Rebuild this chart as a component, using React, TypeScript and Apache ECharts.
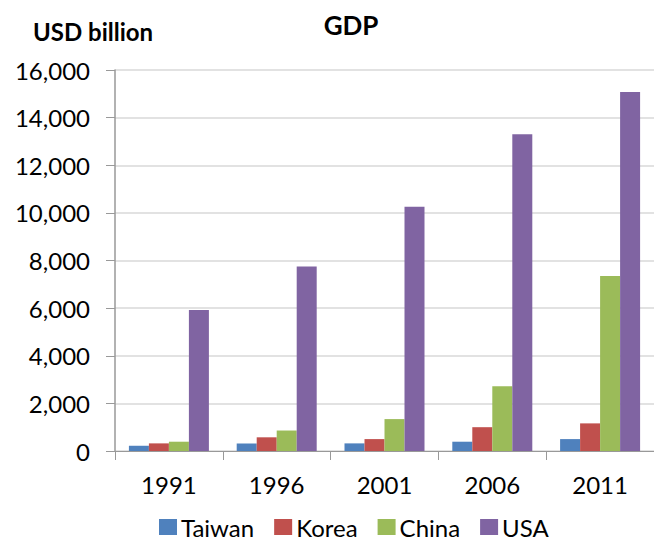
import React, { useEffect, useRef } from "react";
import * as echarts from "echarts";

const categories = ["1991", "1996", "2001", "2006", "2011"];
const taiwan = [220, 320, 320, 390, 500];
const korea = [320, 575, 500, 1000, 1160];
const china = [390, 860, 1340, 2720, 7350];
const usa = [5920, 7750, 10260, 13300, 15080];
const seriesNames = ["Taiwan", "Korea", "China", "USA"];
const colors = ["#4F81BD", "#C0504D", "#9BBB59", "#8064A2"];

const FONT = "Lato, 'Liberation Sans', sans-serif";

export default function App() {
  const ref = useRef<HTMLDivElement>(null);
  useEffect(() => {
    if (!ref.current) return;
    const chart = echarts.init(ref.current, undefined, { renderer: "svg" });
    const values = [taiwan, korea, china, usa];
    chart.setOption({
      animation: false,
      backgroundColor: "#ffffff",
      textStyle: { fontFamily: FONT },
      title: [
        {
          text: "GDP",
          left: 346,
          top: 7,
          textAlign: "center",
          textStyle: { fontFamily: FONT, fontSize: 26, fontWeight: "bold", color: "#000" },
        },
        {
          text: "USD billion",
          left: 28,
          top: 14,
          textStyle: { fontFamily: FONT, fontSize: 24, fontWeight: "bold", color: "#000" },
        },
      ],
      legend: {
        left: 154,
        top: 509,
        icon: "rect",
        itemWidth: 18,
        itemHeight: 16,
        itemGap: 20,
        data: seriesNames,
        textStyle: { fontFamily: FONT, fontSize: 24, lineHeight: 26, color: "#000", padding: [0, 0, 0, -1] },
      },
      grid: { left: 115, top: 70, width: 550, height: 381 },
      xAxis: {
        type: "category",
        data: categories,
        axisLine: { lineStyle: { color: "#999999", width: 1 } },
        axisTick: { show: true, length: 9, lineStyle: { color: "#999999" } },
        axisLabel: { fontFamily: FONT, fontSize: 24, color: "#000", margin: 21 },
      },
      yAxis: {
        type: "value",
        min: 0,
        max: 16000,
        interval: 2000,
        axisLine: { show: true, lineStyle: { color: "#999999", width: 1.5 } },
        axisTick: { show: true, length: 9, lineStyle: { color: "#999999" } },
        axisLabel: {
          fontFamily: FONT,
          fontSize: 24,
          color: "#000",
          margin: 25,
          formatter: (v: number) => v.toLocaleString("en-US"),
        },
        splitLine: { lineStyle: { color: "#D9D9D9", width: 1.5 } },
      },
      series: seriesNames.map((name, i) => ({
        name,
        type: "bar",
        data: values[i],
        barWidth: 20,
        barGap: "0%",
        itemStyle: { color: colors[i] },
      })),
    });
    return () => chart.dispose();
  }, []);
  return (
    <div
      ref={ref}
      style={{ position: "fixed", left: 0, top: 0, width: 654, height: 543 }}
    />
  );
}
